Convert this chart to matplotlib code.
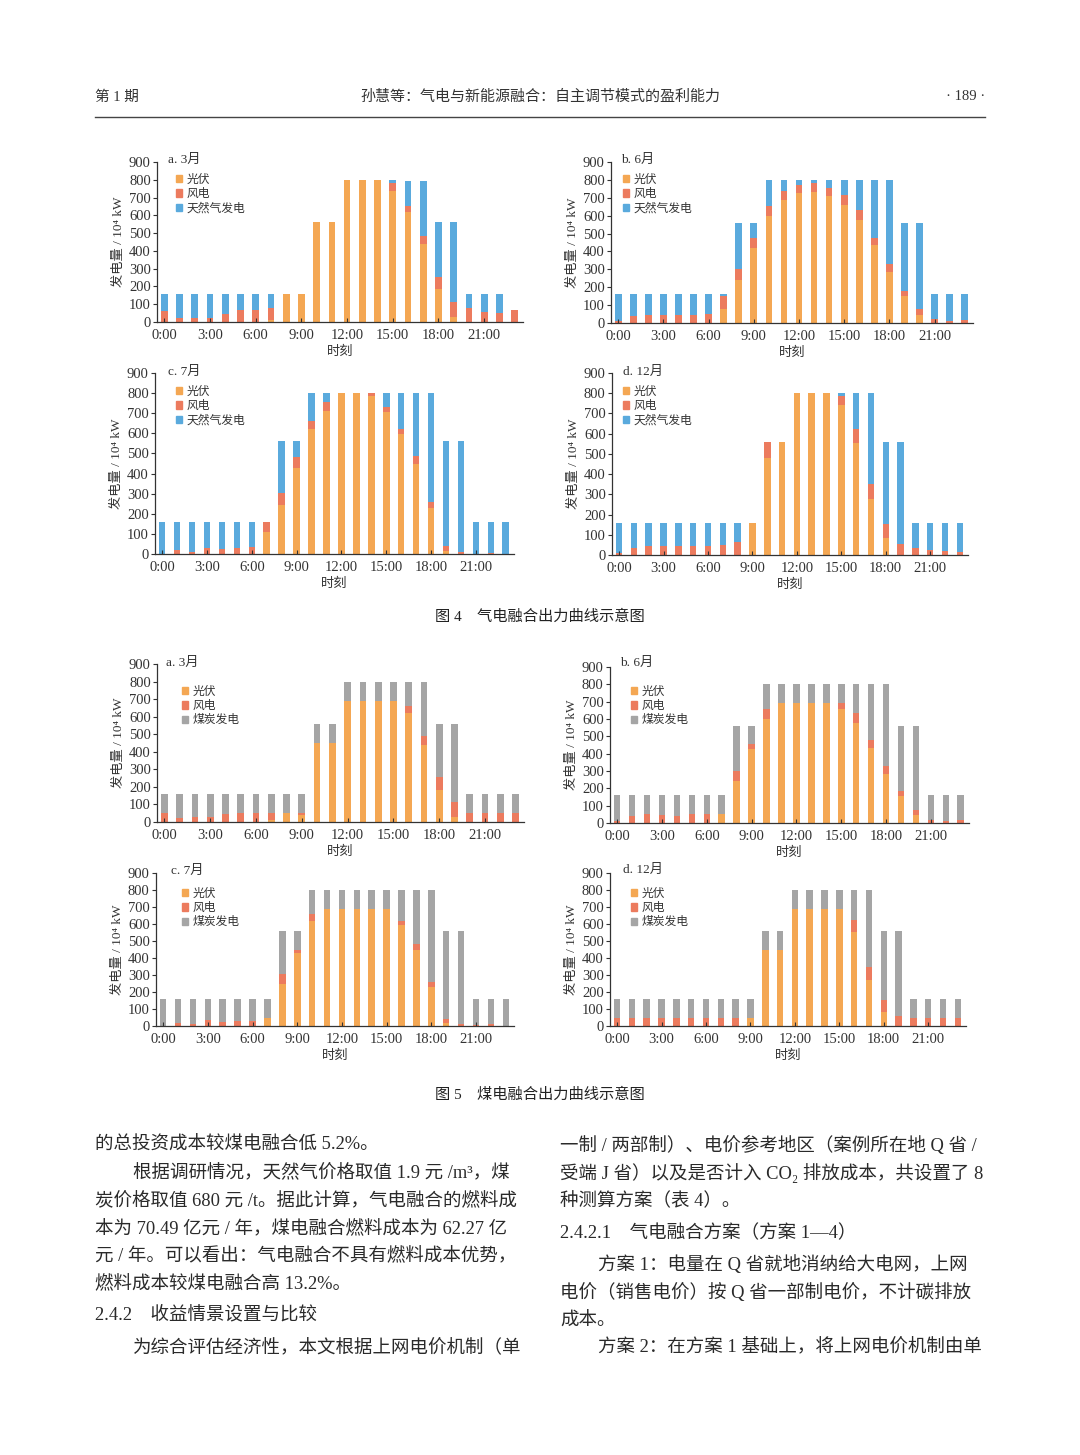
import matplotlib.pyplot as plt
from matplotlib.patches import Patch

plt.rcParams['font.family'] = ['Liberation Serif', 'Noto Sans CJK SC', 'DejaVu Serif']

# ---- data (10^4 kW), hourly 0:00 .. 23:00 ----
hours = list(range(24))
tick_hours = [0, 3, 6, 9, 12, 15, 18, 21]
tick_labels = ['0:00', '3:00', '6:00', '9:00', '12:00', '15:00', '18:00', '21:00']
series_names = ['光伏', '风电']

# Fig 4: gas + renewables
gas_mar_pv = [0, 0, 0, 0, 0, 0, 0, 10, 160, 160, 560, 560, 800, 800, 800, 735, 620, 440, 185, 30, 0, 0, 0, 0]
gas_mar_wind = [60, 20, 25, 25, 45, 65, 65, 70, 0, 0, 0, 0, 0, 0, 0, 45, 35, 45, 70, 80, 80, 55, 50, 65]
gas_mar_gas = [100, 140, 130, 130, 115, 90, 95, 75, 0, 0, 0, 0, 0, 0, 0, 20, 140, 310, 305, 450, 80, 100, 110, 0]

gas_jun_pv = [0, 0, 0, 0, 0, 0, 0, 80, 240, 420, 600, 685, 725, 735, 710, 660, 575, 435, 285, 150, 45, 0, 0, 0]
gas_jun_wind = [10, 40, 45, 45, 45, 45, 50, 70, 60, 55, 55, 55, 45, 45, 45, 55, 55, 40, 45, 30, 35, 20, 10, 15]
gas_jun_gas = [150, 120, 115, 115, 115, 115, 110, 10, 260, 85, 145, 60, 30, 20, 45, 85, 170, 325, 470, 380, 480, 140, 150, 145]

gas_jul_pv = [0, 0, 0, 0, 0, 0, 0, 110, 245, 430, 620, 710, 800, 800, 785, 705, 595, 450, 230, 15, 0, 0, 0, 0]
gas_jul_wind = [0, 20, 10, 30, 25, 30, 35, 50, 60, 50, 40, 45, 0, 0, 15, 25, 25, 35, 30, 25, 10, 0, 5, 0]
gas_jul_gas = [160, 140, 150, 130, 135, 130, 125, 0, 255, 80, 140, 45, 0, 0, 0, 70, 180, 315, 540, 520, 550, 160, 155, 160]

gas_dec_pv = [0, 0, 0, 0, 0, 0, 0, 0, 0, 160, 480, 560, 800, 800, 800, 740, 555, 275, 85, 0, 0, 0, 0, 0]
gas_dec_wind = [10, 35, 45, 45, 45, 45, 45, 50, 65, 0, 80, 0, 0, 0, 0, 45, 70, 75, 70, 55, 35, 25, 20, 15]
gas_dec_gas = [150, 125, 115, 115, 115, 115, 115, 110, 95, 0, 0, 0, 0, 0, 0, 15, 175, 450, 405, 505, 125, 135, 140, 145]

# Fig 5: coal + renewables
coal_mar_pv = [0, 0, 0, 0, 0, 0, 0, 10, 50, 40, 450, 450, 690, 690, 690, 690, 620, 440, 185, 30, 0, 0, 0, 0]
coal_mar_wind = [50, 25, 30, 30, 45, 50, 50, 40, 0, 10, 0, 0, 0, 0, 0, 0, 40, 50, 70, 85, 50, 50, 50, 50]
coal_mar_coal = [110, 135, 130, 130, 115, 110, 110, 110, 110, 110, 110, 110, 110, 110, 110, 110, 140, 310, 305, 445, 110, 110, 110, 110]

coal_jun_pv = [0, 0, 0, 0, 0, 0, 0, 50, 240, 425, 600, 690, 690, 690, 690, 660, 575, 435, 285, 155, 45, 0, 0, 0]
coal_jun_wind = [10, 40, 50, 45, 40, 50, 50, 0, 60, 30, 55, 0, 0, 0, 0, 30, 60, 45, 45, 30, 30, 20, 10, 15]
coal_jun_coal = [150, 120, 110, 115, 120, 110, 110, 110, 260, 105, 145, 110, 110, 110, 110, 110, 165, 320, 470, 375, 485, 140, 150, 145]

coal_jul_pv = [0, 0, 0, 0, 0, 0, 0, 45, 245, 430, 620, 690, 690, 690, 690, 690, 595, 450, 230, 15, 0, 0, 0, 0]
coal_jul_wind = [0, 20, 10, 35, 25, 30, 30, 0, 60, 20, 40, 0, 0, 0, 0, 0, 25, 35, 30, 25, 10, 5, 10, 0]
coal_jul_coal = [160, 140, 150, 125, 135, 130, 130, 115, 255, 110, 140, 110, 110, 110, 110, 110, 180, 315, 540, 520, 550, 155, 150, 160]

coal_dec_pv = [0, 0, 0, 0, 0, 0, 0, 0, 0, 50, 450, 450, 690, 690, 690, 690, 555, 270, 85, 0, 0, 0, 0, 0]
coal_dec_wind = [50, 50, 50, 50, 50, 50, 50, 50, 50, 0, 0, 0, 0, 0, 0, 0, 70, 75, 70, 60, 50, 50, 50, 50]
coal_dec_coal = [110, 110, 110, 110, 110, 110, 110, 110, 110, 110, 110, 110, 110, 110, 110, 110, 175, 455, 405, 500, 110, 110, 110, 110]

PV = '#F4A753'
WIND = '#EC7B5E'
GAS = '#5AAADD'
COAL = '#A5A5A5'
INK = '#333333'

W, H = 1080, 1455
fig = plt.figure(figsize=(W / 100, H / 100), dpi=100)


def px(x, y):
    return x / W, 1 - y / H


def panel(box, title, title_xy, leg_xy, pv, wind, other, other_name, other_color):
    l, t, r, b = box
    ax = fig.add_axes([l / W, 1 - b / H, (r - l) / W, (b - t) / H])
    bottom2 = [p + w for p, w in zip(pv, wind)]
    ax.bar(hours, pv, width=0.44, color=PV, linewidth=0)
    ax.bar(hours, wind, bottom=pv, width=0.44, color=WIND, linewidth=0)
    ax.bar(hours, other, bottom=bottom2, width=0.44, color=other_color, linewidth=0)
    ax.set_xlim(-0.48, 23.55)
    ax.set_ylim(0, 900)
    ax.set_yticks(range(0, 901, 100))
    ax.set_xticks(tick_hours)
    ax.set_xticklabels(tick_labels)
    for s in ['top', 'right']:
        ax.spines[s].set_visible(False)
    for s in ['left', 'bottom']:
        ax.spines[s].set_color(INK)
        ax.spines[s].set_linewidth(0.9)
    ax.tick_params(axis='both', length=3, width=0.8, color=INK, labelsize=10.5,
                   labelcolor=INK)
    ax.tick_params(axis='y', direction='out', pad=1.5)
    ax.tick_params(axis='x', direction='in', pad=5)
    ax.set_ylabel('发电量 / 10⁴ kW', fontsize=9.5, color=INK, labelpad=3)
    ax.set_xlabel('时刻', fontsize=9.5, color=INK, labelpad=2.5)
    fig.text(*px(title_xy[0], title_xy[1] + 2), title, fontsize=9.5, color=INK, va='center', ha='left')
    handles = [Patch(color=PV), Patch(color=WIND), Patch(color=other_color)]
    ax.legend(handles, series_names + [other_name], loc='upper left',
              bbox_to_anchor=px(leg_xy[0] - 2, leg_xy[1] - 5), bbox_transform=fig.transFigure,
              frameon=False, fontsize=8.5, handlelength=0.55, handleheight=0.55,
              handletextpad=0.35, labelspacing=0.18, borderpad=0, borderaxespad=0,
              labelcolor=INK)
    return ax


# Fig 4
panel((157, 162, 523, 322), 'a. 3月', (168, 158), (178, 179), gas_mar_pv, gas_mar_wind, gas_mar_gas, '天然气发电', GAS)
panel((611, 162, 973, 323), 'b. 6月', (621, 158), (625, 179), gas_jun_pv, gas_jun_wind, gas_jun_gas, '天然气发电', GAS)
panel((155, 373, 514, 554), 'c. 7月', (168, 370), (178, 391), gas_jul_pv, gas_jul_wind, gas_jul_gas, '天然气发电', GAS)
panel((612, 373, 968, 555), 'd. 12月', (623, 370), (625, 391), gas_dec_pv, gas_dec_wind, gas_dec_gas, '天然气发电', GAS)

# Fig 5
panel((157, 664, 524, 822), 'a. 3月', (166, 661), (184, 691), coal_mar_pv, coal_mar_wind, coal_mar_coal, '煤炭发电', COAL)
panel((610, 667, 969, 823), 'b. 6月', (620, 661), (633, 691), coal_jun_pv, coal_jun_wind, coal_jun_coal, '煤炭发电', COAL)
panel((156, 873, 514, 1026), 'c. 7月', (171, 869), (184, 893), coal_jul_pv, coal_jul_wind, coal_jul_coal, '煤炭发电', COAL)
panel((610, 873, 966, 1026), 'd. 12月', (623, 868), (633, 893), coal_dec_pv, coal_dec_wind, coal_dec_coal, '煤炭发电', COAL)

# page header
fig.text(*px(95, 97), '第 1 期', fontsize=10.5, color=INK, va='center', ha='left')
fig.text(*px(540, 97), '孙慧等：气电与新能源融合：自主调节模式的盈利能力', fontsize=10.8, color=INK, va='center', ha='center')
fig.text(*px(985, 96), '· 189 ·', fontsize=10.5, color=INK, va='center', ha='right')
fig.add_artist(plt.Line2D([95 / W, 985 / W], [1 - 117 / H, 1 - 117 / H], color='#444444', linewidth=1.0))

# captions
fig.text(*px(540, 617), '图 4　气电融合出力曲线示意图', fontsize=11, color='#222222', va='center', ha='center', weight='medium')
fig.text(*px(540, 1095), '图 5　煤电融合出力曲线示意图', fontsize=11, color='#222222', va='center', ha='center', weight='medium')

# body text
left_lines = [
    (95, 1143, '的总投资成本较煤电融合低 5.2%。'),
    (133, 1171, '根据调研情况，天然气价格取值 1.9 元 /m³，煤'),
    (95, 1199, '炭价格取值 680 元 /t。据此计算，气电融合的燃料成'),
    (95, 1227, '本为 70.49 亿元 / 年，煤电融合燃料成本为 62.27 亿'),
    (95, 1254, '元 / 年。可以看出：气电融合不具有燃料成本优势，'),
    (95, 1282, '燃料成本较煤电融合高 13.2%。'),
    (95, 1313, '2.4.2　收益情景设置与比较'),
    (133, 1346, '为综合评估经济性，本文根据上网电价机制（单'),
]
right_lines = [
    (560, 1143, '一制 / 两部制）、电价参考地区（案例所在地 Q 省 /'),
    (560, 1171, '受端 J 省）以及是否计入 CO₂ 排放成本，共设置了 8'),
    (560, 1199, '种测算方案（表 4）。'),
    (560, 1231, '2.4.2.1　气电融合方案（方案 1—4）'),
    (598, 1263, '方案 1：电量在 Q 省就地消纳给大电网，上网'),
    (560, 1291, '电价（销售电价）按 Q 省一部制电价，不计碳排放'),
    (560, 1319, '成本。'),
    (598, 1346, '方案 2：在方案 1 基础上，将上网电价机制由单'),
]
for x, y, s in left_lines + right_lines:
    fig.text(*px(x, y + 2), s, fontsize=13.3, color='#2a2a2a', va='center', ha='left')

fig.savefig('out.png', dpi=100, facecolor='white')
